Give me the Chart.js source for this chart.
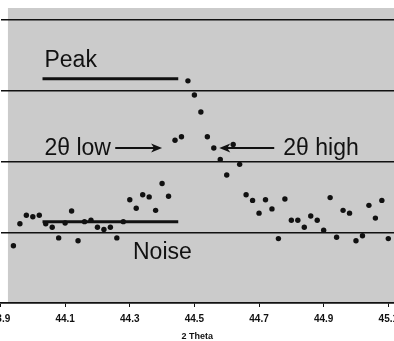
<!DOCTYPE html>
<html>
<head>
<meta charset="utf-8">
<script src="https://cdn.jsdelivr.net/npm/chart.js@4/dist/chart.umd.min.js"></script>
<style>
  html, body { margin: 0; padding: 0; background: #fff; overflow: hidden; width: 394px; height: 341px; }
  #wrap { position: absolute; left: -20px; top: 0; width: 434px; height: 341px; }
</style>
</head>
<body>
<div id="wrap"><canvas id="c" width="434" height="341"></canvas></div>
<script>
// ---- data ----
const twoTheta = [43.94,43.96,43.98,44.00,44.02,44.04,44.06,44.08,44.10,44.12,
  44.14,44.16,44.18,44.20,44.22,44.24,44.26,44.28,44.30,44.32,
  44.34,44.36,44.38,44.40,44.42,44.44,44.46,44.48,44.50,44.52,
  44.54,44.56,44.58,44.60,44.62,44.64,44.66,44.68,44.70,44.72,
  44.74,44.76,44.78,44.80,44.82,44.84,44.86,44.88,44.90,44.92,
  44.94,44.96,44.98,45.00,45.02,45.04,45.06,45.08,45.10];
const intensity = [0.81,1.12,1.24,1.22,1.24,1.12,1.07,0.92,1.13,1.30,
  0.88,1.15,1.17,1.07,1.04,1.07,0.92,1.15,1.46,1.34,
  1.53,1.50,1.31,1.69,1.51,2.30,2.35,3.14,2.94,2.70,
  2.35,2.19,2.03,1.81,2.24,1.96,1.53,1.45,1.27,1.46,
  1.33,0.91,1.47,1.17,1.17,1.07,1.23,1.17,1.03,1.49,
  0.93,1.31,1.27,0.88,0.95,1.38,1.20,1.45,0.91];
const xTicks = [43.9, 44.1, 44.3, 44.5, 44.7, 44.9, 45.1];
const xTickLabels = ['43.9', '44.1', '44.3', '44.5', '44.7', '44.9', '45.1'];
const yGrid = [0, 1, 2, 3, 4];
const xTitle = '2 Theta';

// reference lines (annotation) in data units
const peakLineX = [44.03, 44.45];
const peakLineY = [3.17, 3.17];
const noiseLineX = [44.03, 44.45];
const noiseLineY = [1.15, 1.15];
// arrows: [fromX, fromY, toX, toY]
const arrowLow = [44.255, 2.19, 44.40, 2.19];
const arrowHigh = [44.747, 2.19, 44.577, 2.19];
// text labels: [text, x, baselineY]
const labelTexts = ['Peak', '2θ low', '2θ high', 'Noise'];
const labelX = [44.036, 44.036, 44.775, 44.31];
const labelY = [3.34, 2.09, 2.09, 0.62];

// ---- chart ----
const X_MIN = 43.9, X_MAX = 45.1176, Y_MIN = 0, Y_MAX = 4.17;
const BG_START = 43.923;
const INK = '#111';

const bgPlugin = {
  id: 'bg',
  beforeDraw(chart) {
    const {ctx, chartArea: a, scales: {x}} = chart;
    const left = x.getPixelForValue(BG_START);
    ctx.save();
    ctx.fillStyle = '#cbcbcb';
    ctx.fillRect(left, a.top, a.right - left, a.bottom - a.top);
    ctx.restore();
  }
};

function arrow(ctx, x, y, a) {
  const x1 = x.getPixelForValue(a[0]), y1 = y.getPixelForValue(a[1]);
  const x2 = x.getPixelForValue(a[2]), y2 = y.getPixelForValue(a[3]);
  const dir = Math.sign(x2 - x1);
  ctx.beginPath();
  ctx.moveTo(x1, y1); ctx.lineTo(x2 - dir * 6, y2);
  ctx.lineWidth = 2; ctx.strokeStyle = INK; ctx.stroke();
  ctx.beginPath();
  ctx.moveTo(x2, y2);
  ctx.lineTo(x2 - dir * 11, y2 - 4.5);
  ctx.lineTo(x2 - dir * 8, y2);
  ctx.lineTo(x2 - dir * 11, y2 + 4.5);
  ctx.closePath();
  ctx.fillStyle = INK; ctx.fill();
}

const annoPlugin = {
  id: 'anno',
  afterDatasetsDraw(chart) {
    const {ctx, scales: {x, y}} = chart;
    ctx.save();
    arrow(ctx, x, y, arrowLow);
    arrow(ctx, x, y, arrowHigh);
    ctx.fillStyle = INK;
    ctx.font = '23px "Liberation Sans", Arial, sans-serif';
    ctx.textBaseline = 'alphabetic';
    ctx.textAlign = 'left';
    labelTexts.forEach((t, i) => {
      ctx.fillText(t, x.getPixelForValue(labelX[i]), y.getPixelForValue(labelY[i]));
    });
    ctx.restore();
  }
};

new Chart(document.getElementById('c'), {
  type: 'scatter',
  data: {
    datasets: [
      {
        data: twoTheta.map((v, i) => ({x: v, y: intensity[i]})),
        backgroundColor: INK, borderColor: INK,
        pointRadius: 2.7, pointBorderWidth: 0, showLine: false
      },
      {
        data: peakLineX.map((v, i) => ({x: v, y: peakLineY[i]})),
        showLine: true, borderColor: INK, borderWidth: 3, pointRadius: 0
      },
      {
        data: noiseLineX.map((v, i) => ({x: v, y: noiseLineY[i]})),
        showLine: true, borderColor: INK, borderWidth: 3, pointRadius: 0
      }
    ]
  },
  options: {
    responsive: false,
    animation: false,
    devicePixelRatio: 1,
    layout: { padding: { left: 20.5, right: 20, top: 8, bottom: 0 } },
    plugins: { legend: { display: false }, tooltip: { enabled: false } },
    scales: {
      x: {
        type: 'linear', min: X_MIN, max: X_MAX,
        afterBuildTicks(s) { s.ticks = xTicks.map(v => ({value: v})); },
        ticks: {
          color: INK, padding: 7.5, maxRotation: 0, autoSkip: false,
          font: { family: '"Liberation Sans", Arial, sans-serif', size: 10, weight: 'bold', lineHeight: 1 },
          callback(v) { const k = xTicks.indexOf(v); return k >= 0 ? xTickLabels[k] : ''; }
        },
        grid: { drawOnChartArea: false, drawTicks: true, tickLength: 4, color: INK, lineWidth: 1 },
        border: { display: true, color: INK, width: 1.5 },
        title: {
          display: true, text: xTitle, color: INK, padding: 0,
          font: { family: '"Liberation Sans", Arial, sans-serif', size: 9, weight: 'bold', lineHeight: 1 }
        }
      },
      y: {
        type: 'linear', min: Y_MIN, max: Y_MAX,
        afterBuildTicks(s) { s.ticks = yGrid.map(v => ({value: v})); },
        ticks: { display: false },
        grid: { drawTicks: false, color: INK, lineWidth: 1.5 },
        border: { display: false }
      }
    }
  },
  plugins: [bgPlugin, annoPlugin]
});
</script>
</body>
</html>
